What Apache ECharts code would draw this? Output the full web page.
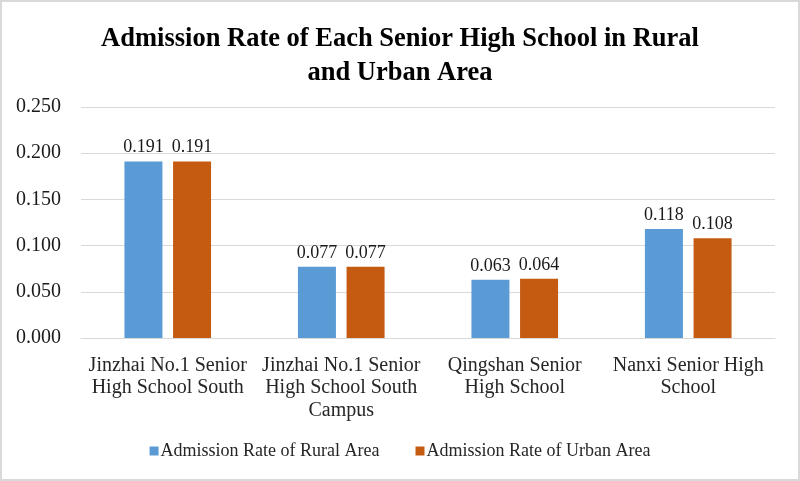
<!DOCTYPE html>
<html lang="en">
<head>
    <meta charset="utf-8">
    <title>Admission Rate Chart</title>
    <script src="https://cdn.jsdelivr.net/npm/echarts@6.0.0/dist/echarts.min.js"></script>
    <style>* {
        margin: 0;
        padding: 0;
    }
    #chart-container {
        position: relative;
        width: 796px;
        height: 477px;
        border: 2px solid #d9d9d9;
        background: #fff;
    }</style>
</head>
<body>
    <div id="chart-container"></div>
    <script>
      var schools = [
          'Jinzhai No.1 Senior\nHigh School South',
          'Jinzhai No.1 Senior\nHigh School South\nCampus',
          'Qingshan Senior\nHigh School',
          'Nanxi Senior High\nSchool'
      ];
      var seriesNames = ['Admission Rate of Rural Area', 'Admission Rate of Urban Area'];
      var ruralRate = [0.191, 0.077, 0.063, 0.118];
      var urbanRate = [0.191, 0.077, 0.064, 0.108];
      var yTicks = { min: 0, max: 0.25, interval: 0.05 };

      var font = '"Liberation Serif", "Times New Roman", serif';
      var myChart = echarts.init(document.getElementById('chart-container'));

      function barSeries(name, data, color) {
          return {
              name: name,
              type: 'bar',
              data: data,
              barWidth: 38,
              barGap: '28%',
              itemStyle: { color: color },
              label: {
                  show: true,
                  position: 'top',
                  distance: 5,
                  fontFamily: font,
                  fontSize: 18,
                  color: '#1a1a1a',
                  formatter: function (p) { return p.value.toFixed(3); }
              }
          };
      }

      myChart.setOption({
          animation: false,
          title: {
              text: 'Admission Rate of Each Senior High School in Rural\nand Urban Area',
              left: 'center',
              top: 15,
              textStyle: {
                  fontFamily: font,
                  fontWeight: 'bold',
                  fontSize: 26.5,
                  lineHeight: 34,
                  color: '#000'
              }
          },
          legend: {
              bottom: 14,
              left: 'center',
              itemWidth: 9,
              itemHeight: 9,
              itemGap: 36,
              icon: 'rect',
              textStyle: { fontFamily: font, fontSize: 18, color: '#262626', padding: [0, 0, 0, -3] },
              data: seriesNames
          },
          grid: {
              left: 79,
              right: 23,
              top: 105,
              bottom: 141
          },
          xAxis: {
              type: 'category',
              data: schools,
              axisLine: { lineStyle: { color: '#d9d9d9' } },
              axisTick: { show: false },
              axisLabel: {
                  fontFamily: font,
                  fontSize: 20,
                  lineHeight: 22.5,
                  color: '#262626',
                  margin: 16,
                  interval: 0
              }
          },
          yAxis: {
              type: 'value',
              min: yTicks.min,
              max: yTicks.max,
              interval: yTicks.interval,
              axisLine: { show: false },
              axisTick: { show: false },
              splitLine: { lineStyle: { color: '#d9d9d9' } },
              axisLabel: {
                  fontFamily: font,
                  fontSize: 20,
                  color: '#1a1a1a',
                  margin: 20,
                  formatter: function (v) { return v.toFixed(3); }
              }
          },
          series: [
              barSeries(seriesNames[0], ruralRate, '#5B9BD5'),
              barSeries(seriesNames[1], urbanRate, '#C55A11')
          ]
      });
  </script>
</body>
</html>
